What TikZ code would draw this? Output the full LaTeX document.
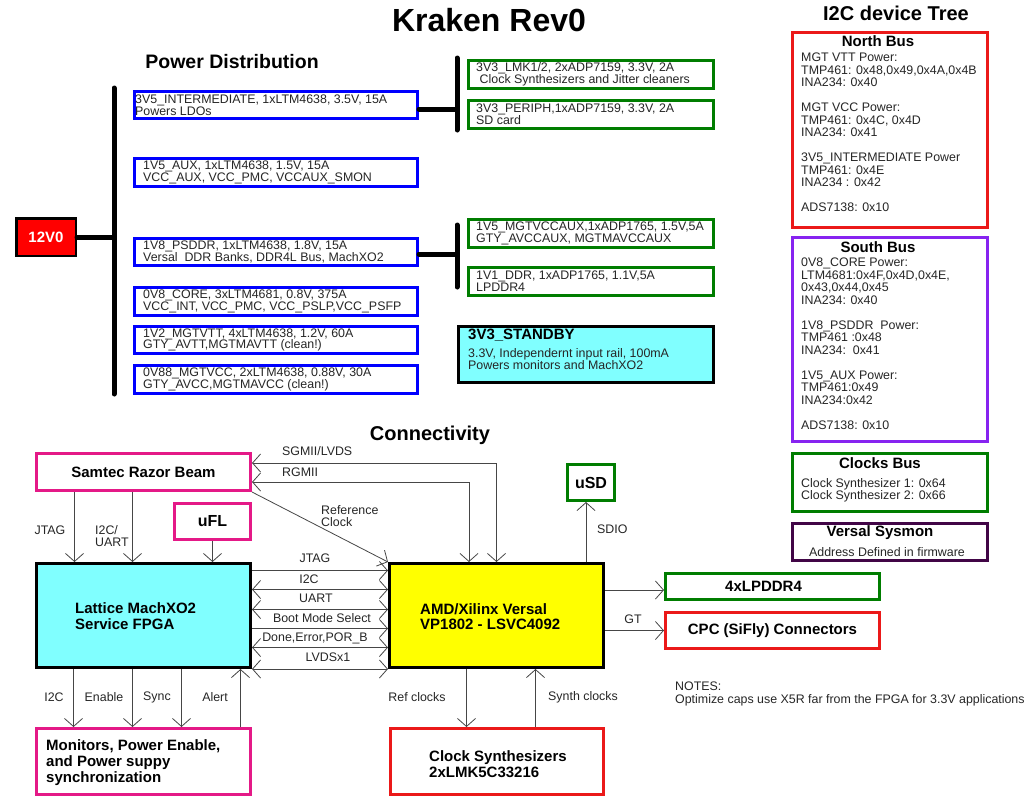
\documentclass[tikz,border=0pt]{standalone}
\usepackage{fontspec}
\setmainfont{Liberation Sans}
\usetikzlibrary{arrows.meta}

\definecolor{grn}{RGB}{0,125,0}
\definecolor{rd}{RGB}{235,25,25}
\definecolor{pnk}{RGB}{228,25,135}
\definecolor{prp}{RGB}{135,35,240}
\definecolor{dprp}{RGB}{65,5,70}
\definecolor{cyn}{RGB}{128,255,255}
\definecolor{ylw}{RGB}{255,255,0}
\definecolor{wirec}{RGB}{70,70,70}

\tikzset{
	>={Straight Barb[length=8pt,width=18pt]},
	head/.style={font=\fontsize{20}{20}\selectfont\bfseries, inner sep=0pt},
	bold/.style={font=\fontsize{15}{16}\selectfont\bfseries, inner sep=0pt, align=left},
	txt/.style={font=\fontsize{12.4}{11.8}\selectfont, inner sep=0pt, align=left, text=black!85},
	i2c/.style={txt, anchor=north west, font=\fontsize{12.4}{12.5}\selectfont},
	box/.style={draw, line width=3pt, inner sep=0pt},
	pwr/.style={box, draw=blue, minimum width=283pt, minimum height=27.5pt},
	ldo/.style={box, draw=grn, minimum width=245pt, minimum height=28pt},
	bus/.style={line width=5pt, line cap=round},
	wire/.style={draw=wirec, line width=0.8pt},
}

\begin{document}
\begin{tikzpicture}[x=1pt, y=-1pt]
	\path[use as bounding box, fill=white] (0,0) rectangle (1031,796);
	
	\node[head, font=\fontsize{32}{32}\selectfont\bfseries] (title) at (489,20) {Kraken Rev0};
	\node[head, font=\fontsize{19.5}{20}\selectfont\bfseries] (pdtitle) at (232,62) {Power Distribution};
	\node[head] (i2ctitle) at (896,13) {I2C device Tree};
	\node[head] (cntitle) at (430,435) {Connectivity};
	
	\node[box, line width=2.5pt, draw=black, fill=red, minimum width=59.5pt, minimum height=37.5pt, text=white, font=\fontsize{15}{15}\selectfont\bfseries] (v12) at (46,237) {12V0};
	
	\coordinate (bustop) at (114,88);
	\coordinate (busbot) at (114,394);
	\draw[bus] (bustop) -- (busbot);
	\draw[bus] (v12.east) -- (v12.east -| bustop);
	
	\node[pwr] (p3v5) at (276,105) {};
	\node[txt, anchor=west] (p3v5t) at ([xshift=2pt]p3v5.west) {3V5\_INTERMEDIATE, 1xLTM4638, 3.5V, 15A\\Powers LDOs};
	
	\node[pwr] (p1v5) at (276,172.5) {};
	\node[txt, anchor=west] (p1v5t) at ([xshift=10pt]p1v5.west) {1V5\_AUX, 1xLTM4638, 1.5V, 15A\\VCC\_AUX, VCC\_PMC, VCCAUX\_SMON};
	
	\node[pwr] (p1v8) at (276,252) {};
	\node[txt, anchor=west] (p1v8t) at ([xshift=10pt]p1v8.west) {1V8\_PSDDR, 1xLTM4638, 1.8V, 15A\\Versal\ \ DDR Banks, DDR4L Bus, MachXO2};
	
	\node[pwr] (p0v8) at (276,301.5) {};
	\node[txt, anchor=west] (p0v8t) at ([xshift=10pt]p0v8.west) {0V8\_CORE, 3xLTM4681, 0.8V, 375A\\VCC\_INT, VCC\_PMC, VCC\_PSLP,VCC\_PSFP};
	
	\node[pwr] (p1v2) at (276,340) {};
	\node[txt, anchor=west] (p1v2t) at ([xshift=10pt]p1v2.west) {1V2\_MGTVTT, 4xLTM4638, 1.2V, 60A\\GTY\_AVTT,MGTMAVTT (clean!)};
	
	\node[pwr] (p0v88) at (276,379.5) {};
	\node[txt, anchor=west] (p0v88t) at ([xshift=10pt]p0v88.west) {0V88\_MGTVCC, 2xLTM4638, 0.88V, 30A\\GTY\_AVCC,MGTMAVCC (clean!)};
	
	\coordinate (sub1top) at (457,58);
	\coordinate (sub1bot) at (457,130);
	\draw[bus] (sub1top) -- (sub1bot);
	\draw[bus] ([yshift=-4pt]p3v5.east) -- ([yshift=-4pt]p3v5.east -| sub1top);
	
	\coordinate (sub2top) at (457,225);
	\coordinate (sub2bot) at (457,287);
	\draw[bus] (sub2top) -- (sub2bot);
	\draw[bus] ([yshift=-2pt]p1v8.east) -- ([yshift=-2pt]p1v8.east -| sub2top);
	
	\node[ldo] (lmk) at (591,74.5) {};
	\node[txt, anchor=west] (lmkt) at ([xshift=9pt]lmk.west) {3V3\_LMK1/2, 2xADP7159, 3.3V, 2A\\\hspace*{3.5pt}Clock Synthesizers and Jitter cleaners};
	
	\node[ldo] (peri) at (591,114.5) {};
	\node[txt, anchor=west] (perit) at ([xshift=9pt]peri.west) {3V3\_PERIPH,1xADP7159, 3.3V, 2A\\SD card};
	
	\node[ldo] (mgtaux) at (591,233) {};
	\node[txt, anchor=west] (mgtauxt) at ([xshift=9pt]mgtaux.west) {1V5\_MGTVCCAUX,1xADP1765, 1.5V,5A\\GTY\_AVCCAUX, MGTMAVCCAUX};
	
	\node[ldo] (ddr) at (591,281.5) {};
	\node[txt, anchor=west] (ddrt) at ([xshift=9pt]ddr.west) {1V1\_DDR, 1xADP1765, 1.1V,5A\\LPDDR4};
	
	\node[box, draw=black, fill=cyn, minimum width=255pt, minimum height=56pt] (stby) at (586,354.5) {};
	\node[bold, anchor=west] (stbyt) at (468,335) {3V3\_STANDBY};
	\node[txt, anchor=west] (stbyb) at (468,359) {3.3V, Independernt input rail, 100mA\\Powers monitors and MachXO2};
	
	\node[box, draw=rd, minimum width=195pt, minimum height=195pt] (north) at (890,130) {};
	\node[bold] (northt) at (878,41) {North Bus};
	\node[i2c] (northb) at (801,53) {MGT VTT Power:\\TMP461: 0x48,0x49,0x4A,0x4B\\INA234: 0x40\\[12.5pt]MGT VCC Power:\\TMP461: 0x4C, 0x4D\\INA234: 0x41\\[12.5pt]3V5\_INTERMEDIATE Power\\TMP461: 0x4E\\INA234 : 0x42\\[12.5pt]ADS7138: 0x10};
	
	\node[box, draw=prp, minimum width=195pt, minimum height=204pt] (south) at (890,339.5) {};
	\node[bold] (southt) at (878,247) {South Bus};
	\node[i2c] (southb) at (801,258) {0V8\_CORE Power:\\LTM4681:0x4F,0x4D,0x4E,\\0x43,0x44,0x45\\INA234: 0x40\\[12.5pt]1V8\_PSDDR\ \ Power:\\TMP461 :0x48\\INA234:\ \ 0x41\\[12.5pt]1V5\_AUX Power:\\TMP461:0x49\\INA234:0x42\\[12.5pt]ADS7138: 0x10};
	
	\node[box, draw=grn, minimum width=195pt, minimum height=58pt] (clkbus) at (890,482.5) {};
	\node[bold] (clkbust) at (880,463) {Clocks Bus};
	\node[i2c] (clkbusb) at (801,478) {Clock Synthesizer 1: 0x64\\Clock Synthesizer 2: 0x66};
	
	\node[box, draw=dprp, minimum width=195pt, minimum height=37pt] (sysmon) at (890,542) {};
	\node[bold] (sysmont) at (880,533) {Versal Sysmon};
	\node[txt] (sysmonb) at (887,552.5) {Address Defined in firmware};
	
	\node[box, draw=pnk, minimum width=214pt, minimum height=37pt, bold] (samtec) at (143.5,472) {Samtec Razor Beam};
	\node[box, draw=pnk, minimum width=76pt, minimum height=36pt, bold, font=\fontsize{16}{16}\selectfont\bfseries] (ufl) at (212.5,521.5) {uFL};
	
	\node[box, draw=black, fill=cyn, minimum width=214pt, minimum height=104pt] (lattice) at (143.5,615.5) {};
	\node[bold, anchor=west] (latticet) at (75,616.5) {Lattice MachXO2\\Service FPGA};
	
	\node[box, draw=black, fill=ylw, minimum width=214pt, minimum height=104pt] (versal) at (496.5,615.5) {};
	\node[bold, anchor=west, font=\fontsize{15}{15}\selectfont\bfseries] (versalt) at (420,616.5) {AMD/Xilinx Versal\\VP1802 - LSVC4092};
	
	\node[box, draw=grn, minimum width=47pt, minimum height=36pt, bold, font=\fontsize{16}{16}\selectfont\bfseries] (usd) at (591,482.5) {uSD};
	\node[box, draw=grn, minimum width=214pt, minimum height=26pt, bold] (lpddr) at (772.5,586.5) {\hspace*{-18pt}4xLPDDR4};
	\node[box, draw=rd, minimum width=214pt, minimum height=36pt, bold] (cpc) at (772.5,630.5) {CPC (SiFly) Connectors};
	
	\node[box, draw=pnk, minimum width=214pt, minimum height=66pt] (monitors) at (143.5,761.5) {};
	\node[bold, anchor=west] (monitorst) at (46,763) {Monitors, Power Enable,\\and Power suppy\\synchronization};
	
	\node[box, draw=rd, minimum width=213pt, minimum height=66pt] (clksyn) at (497,761.5) {};
	\node[bold, anchor=west] (clksynt) at (429,764) {Clock Synthesizers\\2xLMK5C33216};
	
	\node[txt, anchor=north west, font=\fontsize{12.4}{13}\selectfont] (notes) at (675,682) {NOTES:\\Optimize caps use X5R far from the FPGA for 3.3V applications};
	
	\draw[wire, ->] ([xshift=39.5pt]samtec.south west) -- ([xshift=39.5pt]lattice.north west);
	\draw[wire, ->] ([xshift=97.5pt]samtec.south west) -- ([xshift=97.5pt]lattice.north west);
	\draw[wire, ->] (ufl.south) -- (ufl.south |- lattice.north);
	\node[txt] (ljtag1) at (50,530) {JTAG};
	\node[txt, anchor=west] (luart1) at (95,536) {I2C/\\UART};
	
	\draw[wire, <->] ([yshift=9pt]samtec.east) -| (versal.north);
	\draw[wire, <->] ([yshift=-10pt]samtec.east) -| ([xshift=-27.5pt]versal.north);
	\draw[wire, ->] (samtec.south east) -- (versal.north west);
	\node[txt, anchor=west] (lsgmii) at (282,451) {SGMII/LVDS};
	\node[txt, anchor=west] (lrgmii) at (282,472) {RGMII};
	\node[txt, anchor=west] (lrefclk) at (321,516) {Reference\\Clock};
	
	\draw[wire, ->] ([yshift=-8.5pt]lattice.north east) -- ([yshift=-8.5pt]lattice.north east -| versal.west);
	\draw[wire, <->] ([yshift=-27.5pt]lattice.north east) -- ([yshift=-27.5pt]lattice.north east -| versal.west);
	\draw[wire, <->] ([yshift=-47.5pt]lattice.north east) -- ([yshift=-47.5pt]lattice.north east -| versal.west);
	\draw[wire, ->] ([yshift=-66.5pt]lattice.north east) -- ([yshift=-66.5pt]lattice.north east -| versal.west);
	\draw[wire, <->] ([yshift=-85.5pt]lattice.north east) -- ([yshift=-85.5pt]lattice.north east -| versal.west);
	\draw[wire, <->] (lattice.south east) -- (lattice.south east -| versal.west);
	\node[txt] (ljtag2) at (315,558) {JTAG};
	\node[txt] (li2c) at (309,579) {I2C};
	\node[txt] (luart2) at (316,598) {UART};
	\node[txt] (lboot) at (322,618) {Boot Mode Select};
	\node[txt] (ldone) at (315,638) {Done,Error,POR\_B};
	\node[txt] (llvds) at (328,657) {LVDSx1};
	
	\draw[wire, ->] ([xshift=-5pt]usd.south |- versal.north) -- ([xshift=-5pt]usd.south);
	\node[txt, anchor=west] (lsdio) at (597,529) {SDIO};
	\draw[wire, ->] ([yshift=-3.5pt]lpddr.west -| versal.east) -- ([yshift=-3.5pt]lpddr.west);
	\draw[wire, ->] (cpc.west -| versal.east) -- (cpc.west);
	\node[txt] (lgt) at (633,619) {GT};
	
	\draw[wire, ->] ([xshift=38.5pt]lattice.south west) -- ([xshift=38.5pt]monitors.north west);
	\draw[wire, ->] ([xshift=97.5pt]lattice.south west) -- ([xshift=97.5pt]monitors.north west);
	\draw[wire, ->] ([xshift=146.5pt]lattice.south west) -- ([xshift=146.5pt]monitors.north west);
	\draw[wire, <-] ([xshift=205.5pt]lattice.south west) -- ([xshift=205.5pt]monitors.north west);
	\node[txt] (li2c2) at (54,697) {I2C};
	\node[txt] (lenable) at (104,697) {Enable};
	\node[txt] (lsync) at (157,697) {Sync};
	\node[txt] (lalert) at (215,697) {Alert};
	
	\draw[wire, ->] ([xshift=78.5pt]versal.south west) -- ([xshift=78.5pt]versal.south west |- clksyn.north);
	\draw[wire, <-] ([xshift=147.5pt]versal.south west) -- ([xshift=147.5pt]versal.south west |- clksyn.north);
	\node[txt] (lref) at (417,697) {Ref clocks};
	\node[txt] (lsynth) at (583,697) {Synth clocks};
\end{tikzpicture}
\end{document}
